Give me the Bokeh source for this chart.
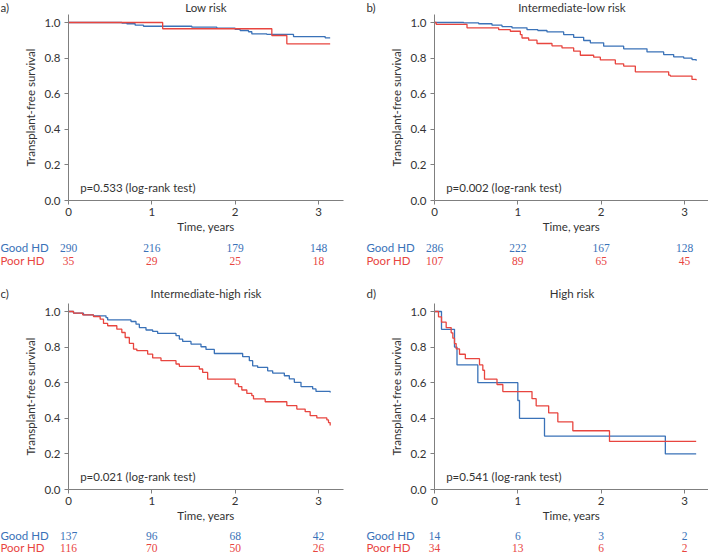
from bokeh.plotting import figure
from bokeh.models import Label, LabelSet, ColumnDataSource, FixedTicker, PrintfTickFormatter, Range1d
from bokeh.layouts import column, row
from bokeh.embed import file_html
from bokeh.resources import INLINE

FONT = "Lato"
FS = "11.5px"
BLUE = "#3a72b8"
RED = "#e8453f"
AXIS_C = "#7f7f7f"
TXT_C = "#333333"

# ---------------- data ----------------
risk_times = [0, 1, 2, 3]

a_good_t = [0, 0.64, 0.70, 0.80, 0.90, 1.48, 1.78, 2.00, 2.06, 2.16, 2.20, 2.38, 2.70, 3.08, 3.14]
a_good_s = [1.0, 0.997, 0.993, 0.985, 0.979, 0.974, 0.968, 0.961, 0.955, 0.948, 0.936, 0.933, 0.921, 0.914, 0.914]
a_poor_t = [0, 1.13, 2.44, 2.62, 3.14]
a_poor_s = [1.0, 0.965, 0.927, 0.880, 0.880]
a_good_n = [290, 216, 179, 148]
a_poor_n = [35, 29, 25, 18]

b_good_t = [0, 0.35, 0.53, 0.69, 0.81, 0.93, 1.11, 1.24, 1.35, 1.55, 1.67, 1.79, 1.87, 2.03, 2.27, 2.55, 2.75, 2.87, 2.99, 3.09, 3.14]
b_good_s = [1.0, 0.998, 0.993, 0.985, 0.977, 0.970, 0.960, 0.955, 0.947, 0.932, 0.917, 0.899, 0.886, 0.867, 0.852, 0.835, 0.820, 0.807, 0.800, 0.792, 0.785]
b_poor_t = [0, 0.02, 0.39, 0.77, 0.91, 1.03, 1.05, 1.13, 1.23, 1.41, 1.53, 1.67, 1.75, 1.91, 1.99, 2.17, 2.27, 2.41, 2.81, 2.83, 3.09, 3.14]
b_poor_s = [1.0, 0.99, 0.97, 0.96, 0.951, 0.932, 0.913, 0.901, 0.882, 0.869, 0.857, 0.839, 0.816, 0.805, 0.790, 0.768, 0.755, 0.723, 0.704, 0.699, 0.680, 0.675]
b_good_n = [286, 222, 167, 128]
b_poor_n = [107, 89, 65, 45]

c_good_t = [0, 0.06, 0.18, 0.30, 0.45, 0.47, 0.75, 0.81, 0.85, 0.93, 1.01, 1.07, 1.29, 1.33, 1.37, 1.47, 1.59, 1.65, 1.75, 2.09, 2.17, 2.21, 2.27, 2.39, 2.45, 2.59, 2.65, 2.71, 2.79, 2.93, 2.97, 3.14]
c_good_s = [1.0, 0.991, 0.981, 0.976, 0.966, 0.953, 0.944, 0.929, 0.910, 0.896, 0.888, 0.877, 0.864, 0.845, 0.832, 0.817, 0.802, 0.787, 0.764, 0.746, 0.724, 0.695, 0.686, 0.667, 0.654, 0.639, 0.621, 0.602, 0.578, 0.565, 0.551, 0.545]
c_poor_t = [0, 0.06, 0.17, 0.30, 0.38, 0.42, 0.47, 0.58, 0.64, 0.68, 0.73, 0.78, 0.82, 0.95, 1.01, 1.11, 1.29, 1.33, 1.57, 1.61, 1.67, 2.00, 2.04, 2.08, 2.14, 2.20, 2.22, 2.36, 2.62, 2.74, 2.84, 2.90, 2.98, 3.10, 3.12, 3.14]
c_poor_s = [1.0, 0.991, 0.981, 0.972, 0.957, 0.933, 0.920, 0.901, 0.882, 0.854, 0.821, 0.789, 0.780, 0.761, 0.739, 0.724, 0.705, 0.692, 0.677, 0.658, 0.620, 0.593, 0.578, 0.559, 0.540, 0.527, 0.509, 0.493, 0.471, 0.452, 0.437, 0.415, 0.402, 0.391, 0.376, 0.359]
c_good_n = [137, 96, 68, 42]
c_poor_n = [116, 70, 50, 26]

d_good_t = [0, 0.084, 0.24, 0.27, 0.52, 1.0, 1.02, 1.32, 2.77, 3.14]
d_good_s = [1.0, 0.9, 0.8, 0.7, 0.6, 0.5, 0.4, 0.3, 0.2, 0.2]
d_poor_t = [0, 0.048, 0.084, 0.14, 0.20, 0.22, 0.24, 0.26, 0.30, 0.37, 0.54, 0.58, 0.60, 0.75, 0.82, 1.17, 1.22, 1.37, 1.48, 1.66, 2.10, 3.14]
d_poor_s = [1.0, 0.97, 0.94, 0.91, 0.88, 0.85, 0.82, 0.79, 0.76, 0.735, 0.70, 0.67, 0.62, 0.59, 0.55, 0.51, 0.47, 0.43, 0.38, 0.33, 0.27, 0.27]
d_good_n = [14, 6, 3, 2]
d_poor_n = [34, 13, 6, 2]

titles = ["Low risk", "Intermediate-low risk", "Intermediate-high risk", "High risk"]
letters = ["a)", "b)", "c)", "d)"]
pvals = ["p=0.533 (log-rank test)", "p=0.002 (log-rank test)",
         "p=0.021 (log-rank test)", "p=0.541 (log-rank test)"]
group_names = ["Good HD", "Poor HD"]

# ---------------- layout constants (pixels) ----------------
X_END = 3.3
Y_END = 1.045
FRAME_W = 275
FRAME_H = 186
PPX = FRAME_W / X_END   # pixels per year
PPY = FRAME_H / Y_END   # pixels per survival unit


def panel(letter, title, gt, gs, pt, ps, gn, pn, pval, width, height,
          ax_left, ax_bottom, title_px, label_px, row_px):
    """ax_left / ax_bottom: pixel position of the axes origin inside the figure."""
    xr = Range1d(-ax_left / PPX, (width - ax_left) / PPX)
    yr = Range1d(-(height - ax_bottom) / PPY, ax_bottom / PPY)
    p = figure(width=width, height=height, x_range=xr, y_range=yr,
               output_backend="svg", toolbar_location=None,
               min_border_left=0, min_border_right=0, min_border_top=0, min_border_bottom=0)
    p.outline_line_color = None
    p.xgrid.visible = False
    p.ygrid.visible = False
    p.background_fill_color = "white"
    p.border_fill_color = "white"

    p.step(gt, gs, mode="after", line_color=BLUE, line_width=1.3)
    p.step(pt, ps, mode="after", line_color=RED, line_width=1.3)

    p.xaxis.fixed_location = 0
    p.yaxis.fixed_location = 0
    p.xaxis.bounds = (0, X_END)
    p.yaxis.bounds = (0, Y_END)
    p.xaxis.ticker = FixedTicker(ticks=risk_times)
    p.yaxis.ticker = FixedTicker(ticks=[0, 0.2, 0.4, 0.6, 0.8, 1.0])
    p.yaxis.formatter = PrintfTickFormatter(format="%.1f")
    p.xaxis.axis_label = "Time, years"
    p.yaxis.axis_label = "Transplant-free survival"
    for ax in (p.xaxis[0], p.yaxis[0]):
        ax.axis_line_color = AXIS_C
        ax.major_tick_line_color = AXIS_C
        ax.minor_tick_line_color = None
        ax.major_tick_out = 4
        ax.major_tick_in = 0
        ax.major_label_text_font = FONT
        ax.major_label_text_font_size = FS
        ax.major_label_text_color = TXT_C
        ax.axis_label_text_font = FONT
        ax.axis_label_text_font_size = FS
        ax.axis_label_text_font_style = "normal"
        ax.axis_label_text_color = TXT_C
    p.xaxis.major_label_standoff = 3
    p.xaxis.axis_label_standoff = 1
    p.yaxis.major_label_standoff = 4
    p.yaxis.axis_label_standoff = 4

    common = dict(text_font=FONT, text_font_size=FS, text_baseline="middle")
    title_y = title_px / PPY
    left_x = -label_px / PPX
    p.add_layout(Label(x=X_END / 2, y=title_y, text=title, text_align="center",
                       text_color=TXT_C, **common))
    p.add_layout(Label(x=left_x, y=title_y, text=letter, text_align="left",
                       text_color=TXT_C, **common))
    p.add_layout(Label(x=0.14, y=0.073, text=pval, text_align="left",
                       text_color=TXT_C, **common))

    gy = -row_px[0] / PPY
    py = -row_px[1] / PPY
    p.add_layout(Label(x=left_x, y=gy, text=group_names[0], text_align="left",
                       text_color=BLUE, **common))
    p.add_layout(Label(x=left_x, y=py, text=group_names[1], text_align="left",
                       text_color=RED, **common))
    src = ColumnDataSource(dict(t=risk_times, gy=[gy] * len(risk_times), py=[py] * len(risk_times),
                                gn=[str(v) for v in gn], pn=[str(v) for v in pn]))
    p.add_layout(LabelSet(x="t", y="gy", text="gn", source=src, text_align="center",
                          text_color=BLUE, **common))
    p.add_layout(LabelSet(x="t", y="py", text="pn", source=src, text_align="center",
                          text_color=RED, **common))
    return p


pa = panel(letters[0], titles[0], a_good_t, a_good_s, a_poor_t, a_poor_s, a_good_n, a_poor_n, pvals[0],
           354, 280, 68, 200, 193, 68, (47, 60))
pb = panel(letters[1], titles[1], b_good_t, b_good_s, b_poor_t, b_poor_s, b_good_n, b_poor_n, pvals[1],
           354, 280, 80, 200, 193, 68, (47, 60))
pc = panel(letters[2], titles[2], c_good_t, c_good_s, c_poor_t, c_poor_s, c_good_n, c_poor_n, pvals[2],
           354, 275, 68, 209, 196, 68, (46, 58))
pd = panel(letters[3], titles[3], d_good_t, d_good_s, d_poor_t, d_poor_s, d_good_n, d_poor_n, pvals[3],
           354, 275, 80, 209, 196, 68, (46, 58))

layout = column(row(pa, pb), row(pc, pd))
open("out.html", "w").write(file_html(layout, INLINE))
